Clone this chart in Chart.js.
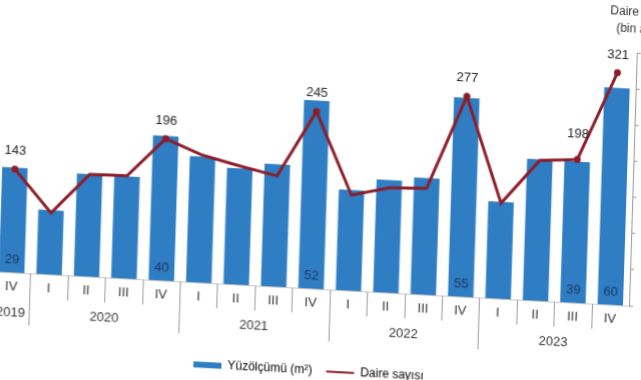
<!DOCTYPE html>
<html><head><meta charset="utf-8">
<script src="https://cdn.jsdelivr.net/npm/chart.js@4"></script>
<style>
html,body{margin:0;padding:0;width:641px;height:380px;overflow:hidden;background:#fff;}
#wrap{position:absolute;left:-60px;top:-40px;width:760px;height:460px;transform-origin:380px 328px;transform:matrix(1,0.054,-0.031,1,0,0);}
</style></head><body>
<div id="wrap"><canvas id="c" width="760" height="460"></canvas></div>
<script>
// ---- data ----
const quarters = ['IV','I','II','III','IV','I','II','III','IV','I','II','III','IV','I','II','III','IV'];
const yearOf = ['2019','2020','2020','2020','2020','2021','2021','2021','2021','2022','2022','2022','2022','2023','2023','2023','2023'];
const areaValues = [29, 17.8, 28.3, 28.2, 40, 34.8, 32.1, 33.8, 52, 27.8, 31.1, 32.2, 55, 26.8, 39.1, 39, 60];
const dwellingValues = [143, 85, 141, 142, 196, 176, 164, 153, 245, 132, 145, 147, 277, 132, 194, 198, 321];
const areaLabelIdx = [0, 4, 8, 12, 15, 16];
const dwellingLabelIdx = [0, 4, 8, 12, 15, 16];
const areaAxisMax = 70;
const dwellingAxisMax = 350;
const dwellingStep = 50;
const areaName = 'Yüzölçümü (m²)';
const dwellingName = 'Daire sayısı';
const rightTitle = ['Daire sayısı', '(bin adet)'];

// ---- style ----
const FONT = "'Liberation Sans Narrow','Liberation Sans',Arial,sans-serif";
const BLUE = '#2F7DC3';
const RED = '#8C1D28';
Chart.defaults.font.family = FONT;
Chart.defaults.color = '#333';

const overlay = {
  id: 'overlay',
  afterDraw(chart) {
    const {ctx, chartArea, scales} = chart;
    const x = scales.x;
    const base = chartArea.bottom;
    ctx.save();
    // separators in category label area
    ctx.strokeStyle = '#9a9a9a';
    ctx.lineWidth = 1;
    for (let i = 0; i < quarters.length - 1; i++) {
      const xm = Math.round((x.getPixelForValue(i) + x.getPixelForValue(i + 1)) / 2) + 0.5;
      const long = yearOf[i] !== yearOf[i + 1];
      ctx.beginPath();
      ctx.moveTo(xm, base);
      ctx.lineTo(xm, base + (long ? 52 : 25));
      ctx.stroke();
    }
    // year labels
    ctx.fillStyle = '#333';
    ctx.font = '13px ' + FONT;
    ctx.textAlign = 'center';
    ctx.textBaseline = 'middle';
    let start = 0;
    for (let i = 1; i <= quarters.length; i++) {
      if (i === quarters.length || yearOf[i] !== yearOf[start]) {
        const cx = (x.getPixelForValue(start) + x.getPixelForValue(i - 1)) / 2;
        ctx.fillText(yearOf[start], cx, base + 40);
        start = i;
      }
    }
    // bar value labels
    const barMeta = chart.getDatasetMeta(0);
    ctx.fillStyle = '#1F3864';
    ctx.font = '13px ' + FONT;
    areaLabelIdx.forEach(i => {
      const el = barMeta.data[i];
      ctx.fillText(String(Math.round(areaValues[i])), el.x, base - 13);
    });
    // line value labels
    const lineMeta = chart.getDatasetMeta(1);
    ctx.fillStyle = '#222';
    dwellingLabelIdx.forEach(i => {
      const el = lineMeta.data[i];
      const off = (i === 15) ? 25 : 18;
      ctx.fillText(String(dwellingValues[i]), el.x, el.y - off);
    });
    // right axis title
    ctx.fillStyle = '#333';
    ctx.font = '12px ' + FONT;
    ctx.fillText(rightTitle[0], chartArea.right + 4, 36);
    ctx.fillText(rightTitle[1], chartArea.right + 4, 53);
    ctx.restore();
  }
};

new Chart(document.getElementById('c'), {
  type: 'bar',
  data: {
    labels: quarters,
    datasets: [
      {
        type: 'bar',
        label: areaName,
        data: areaValues,
        yAxisID: 'y',
        backgroundColor: BLUE,
        barPercentage: 0.68,
        categoryPercentage: 1,
        order: 1
      },
      {
        type: 'line',
        label: dwellingName,
        data: dwellingValues,
        yAxisID: 'y2',
        borderColor: RED,
        borderWidth: 3,
        backgroundColor: RED,
        pointBackgroundColor: RED,
        pointBorderWidth: 0,
        pointRadius: c => dwellingLabelIdx.includes(c.dataIndex) ? 3.5 : 0,
        tension: 0,
        fill: false,
        order: 0
      }
    ]
  },
  options: {
    responsive: false,
    animation: false,
    layout: { padding: { left: 53, right: 31, top: 76, bottom: 33 } },
    plugins: {
      tooltip: { enabled: false },
      legend: {
        position: 'bottom',
        fullSize: false,
        labels: {
          usePointStyle: true,
          pointStyleWidth: 28,
          boxHeight: 6,
          padding: 14,
          color: '#333',
          font: { size: 12 },
          generateLabels: () => [
            { text: areaName, fillStyle: BLUE, strokeStyle: BLUE, lineWidth: 0, pointStyle: 'rect', datasetIndex: 0, hidden: false },
            { text: dwellingName, fillStyle: RED, strokeStyle: RED, lineWidth: 2, pointStyle: 'line', datasetIndex: 1, hidden: false }
          ]
        }
      }
    },
    scales: {
      x: {
        offset: true,
        grid: { display: true, drawOnChartArea: false, drawTicks: false },
        border: { display: true, color: '#c8c8c8' },
        ticks: { padding: 7, color: '#333', font: { size: 13 }, maxRotation: 0, autoSkip: false },
        afterFit: s => { s.height = 62; }
      },
      y: {
        display: false,
        min: 0, max: areaAxisMax
      },
      y2: {
        position: 'right',
        min: 0, max: dwellingAxisMax,
        ticks: { stepSize: dwellingStep, padding: 10, color: '#333', font: { size: 12 } },
        grid: { drawOnChartArea: false, drawTicks: true, tickLength: 4, color: '#999' },
        border: { display: true, color: '#999' },
        afterFit: s => { s.width = 40; }
      }
    }
  },
  plugins: [overlay]
});
</script>
</body></html>
